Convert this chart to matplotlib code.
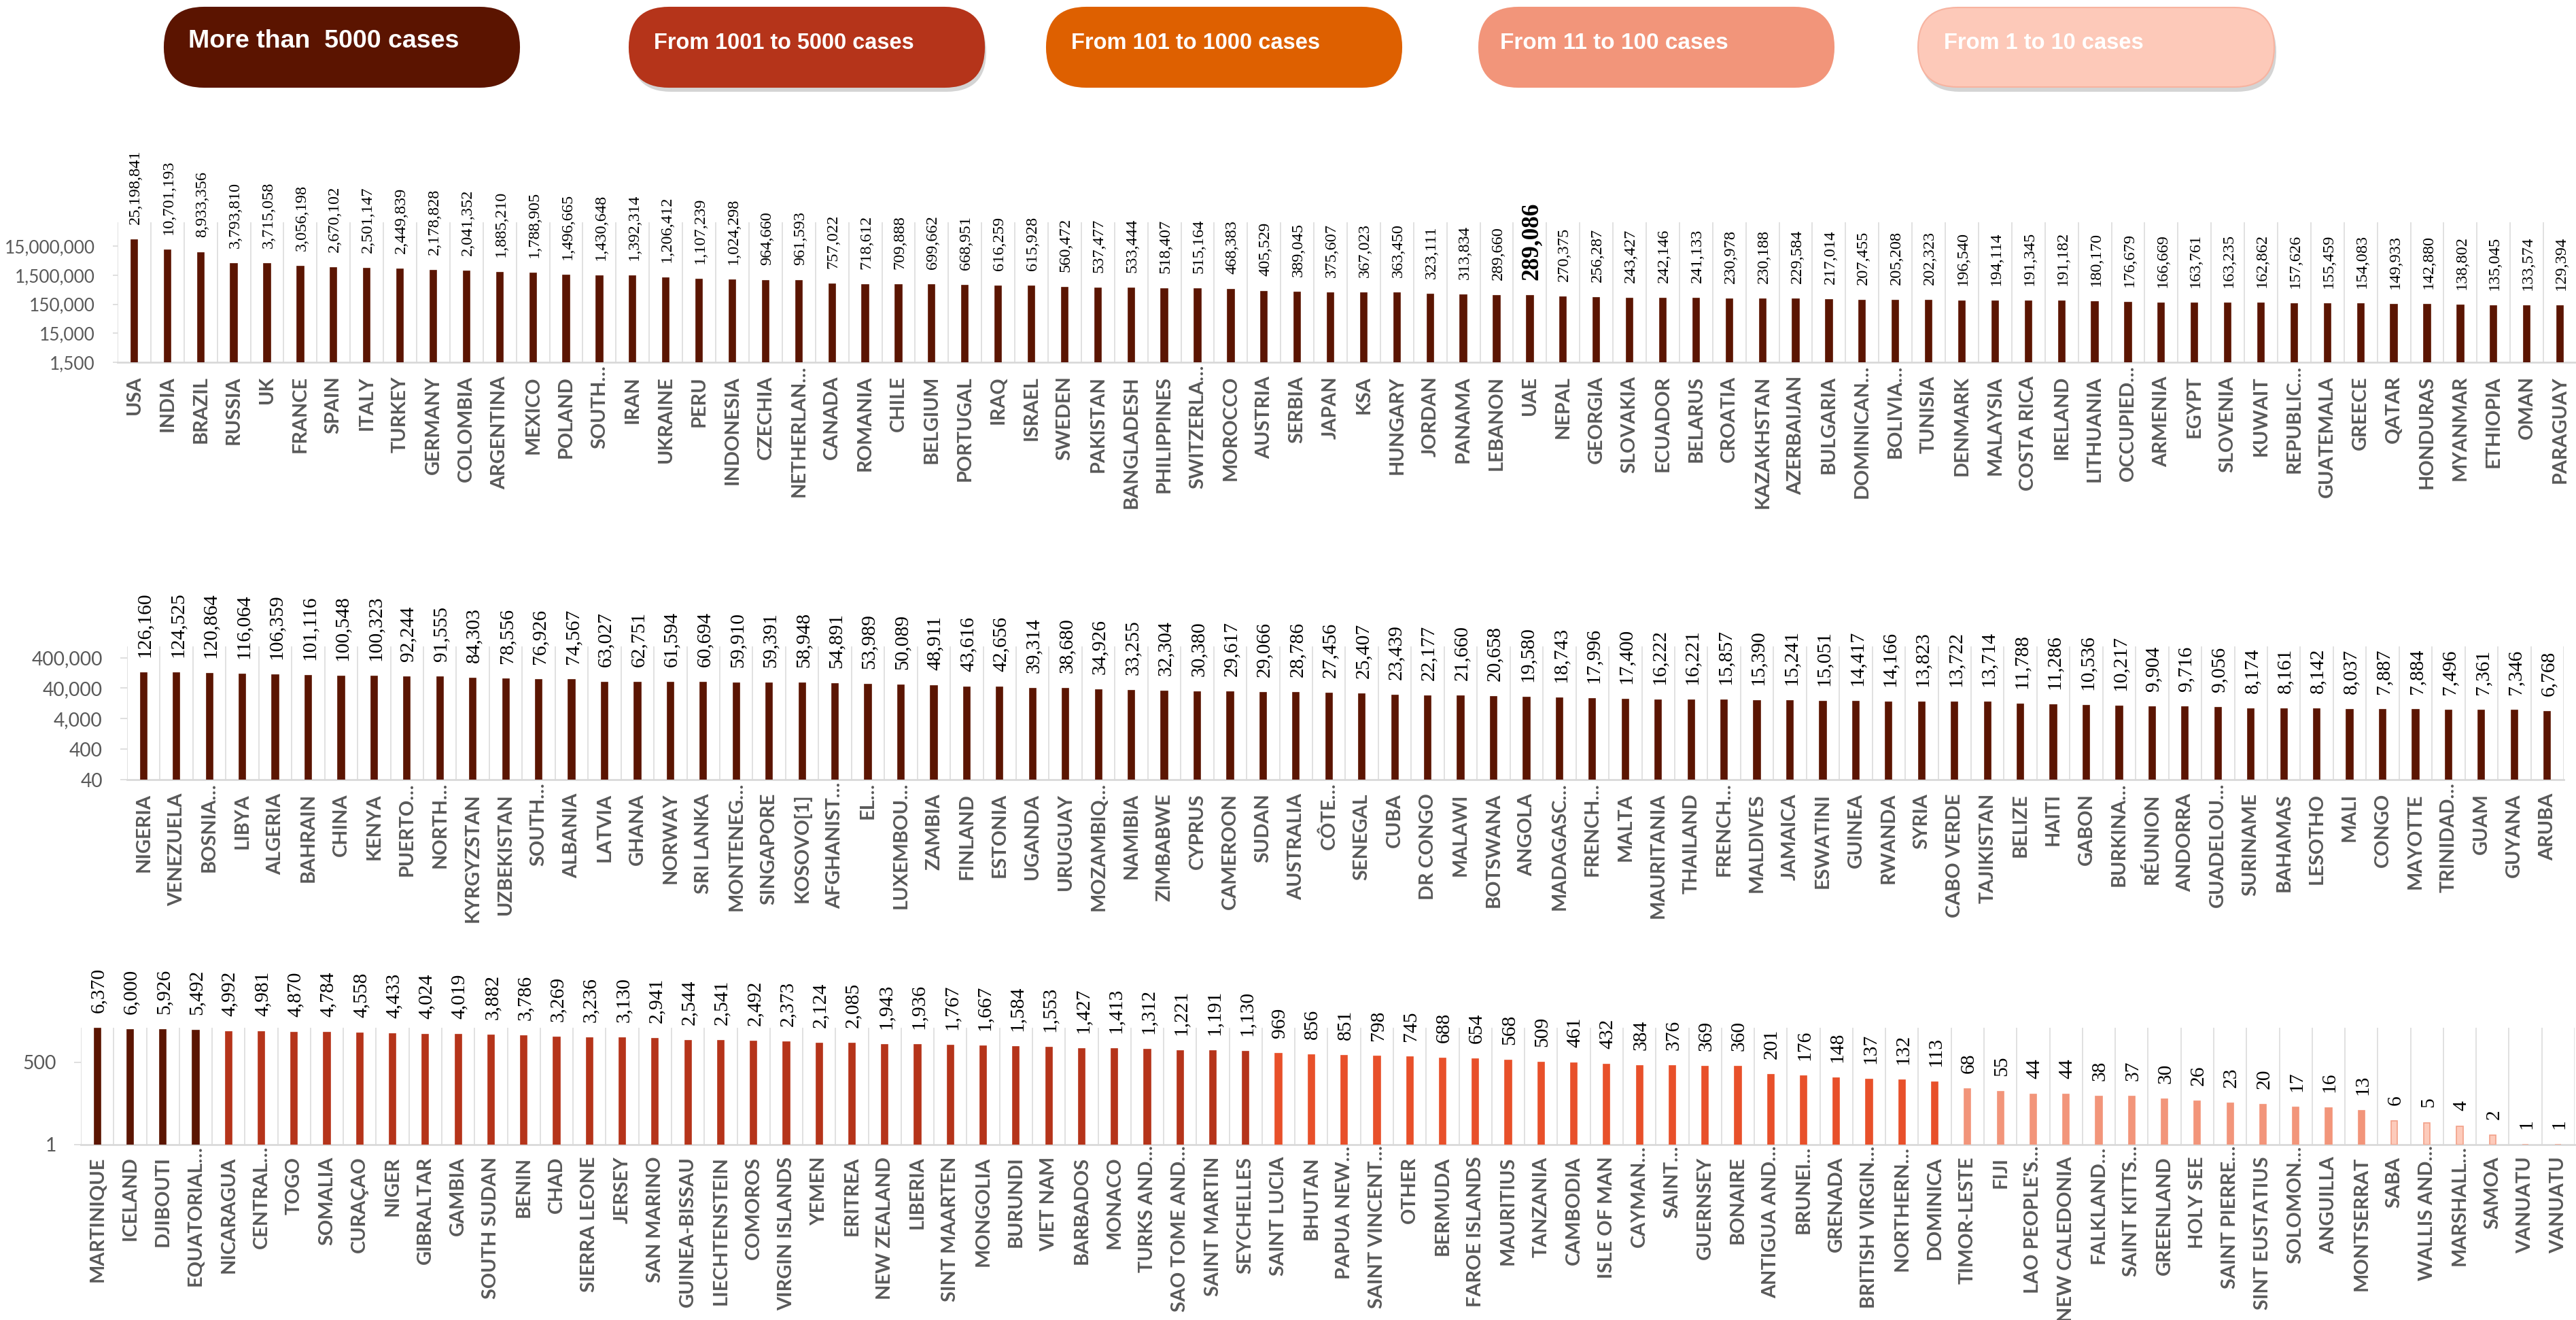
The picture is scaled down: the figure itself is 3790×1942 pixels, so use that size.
import numpy as np
import matplotlib
matplotlib.use("Agg")
import matplotlib.pyplot as plt
from matplotlib.patches import FancyBboxPatch
from matplotlib.textpath import TextPath
from matplotlib.font_manager import FontProperties
from matplotlib.ticker import FixedLocator, FuncFormatter, NullLocator

# ---------------- DATA ----------------
legend_labels = ["More than  5000 cases", "From 1001 to 5000 cases", "From 101 to 1000 cases",
                 "From 11 to 100 cases", "From 1 to 10 cases"]

top_countries = ["USA", "INDIA", "BRAZIL", "RUSSIA", "UK", "FRANCE", "SPAIN", "ITALY", "TURKEY", "GERMANY",
                 "COLOMBIA", "ARGENTINA", "MEXICO", "POLAND", "SOUTH…", "IRAN", "UKRAINE", "PERU", "INDONESIA",
                 "CZECHIA", "NETHERLAN…", "CANADA", "ROMANIA", "CHILE", "BELGIUM", "PORTUGAL", "IRAQ", "ISRAEL",
                 "SWEDEN", "PAKISTAN", "BANGLADESH", "PHILIPPINES", "SWITZERLA…", "MOROCCO", "AUSTRIA", "SERBIA",
                 "JAPAN", "KSA", "HUNGARY", "JORDAN", "PANAMA", "LEBANON", "UAE", "NEPAL", "GEORGIA", "SLOVAKIA",
                 "ECUADOR", "BELARUS", "CROATIA", "KAZAKHSTAN", "AZERBAIJAN", "BULGARIA", "DOMINICAN…",
                 "BOLIVIA…", "TUNISIA", "DENMARK", "MALAYSIA", "COSTA RICA", "IRELAND", "LITHUANIA",
                 "OCCUPIED…", "ARMENIA", "EGYPT", "SLOVENIA", "KUWAIT", "REPUBLIC…", "GUATEMALA", "GREECE",
                 "QATAR", "HONDURAS", "MYANMAR", "ETHIOPIA", "OMAN", "PARAGUAY"]
top_values = [25198841, 10701193, 8933356, 3793810, 3715058, 3056198, 2670102, 2501147, 2449839, 2178828,
              2041352, 1885210, 1788905, 1496665, 1430648, 1392314, 1206412, 1107239, 1024298, 964660,
              961593, 757022, 718612, 709888, 699662, 668951, 616259, 615928, 560472, 537477,
              533444, 518407, 515164, 468383, 405529, 389045, 375607, 367023, 363450, 323111,
              313834, 289660, 289086, 270375, 256287, 243427, 242146, 241133, 230978, 230188,
              229584, 217014, 207455, 205208, 202323, 196540, 194114, 191345, 191182, 180170,
              176679, 166669, 163761, 163235, 162862, 157626, 155459, 154083, 149933, 142880,
              138802, 135045, 133574, 129394]
top_highlight = "UAE"
top_ticks = [1500, 15000, 150000, 1500000, 15000000]

mid_countries = ["NIGERIA", "VENEZUELA", "BOSNIA…", "LIBYA", "ALGERIA", "BAHRAIN", "CHINA", "KENYA", "PUERTO…",
                 "NORTH…", "KYRGYZSTAN", "UZBEKISTAN", "SOUTH…", "ALBANIA", "LATVIA", "GHANA", "NORWAY",
                 "SRI LANKA", "MONTENEG…", "SINGAPORE", "KOSOVO[1]", "AFGHANIST…", "EL…", "LUXEMBOU…", "ZAMBIA",
                 "FINLAND", "ESTONIA", "UGANDA", "URUGUAY", "MOZAMBIQ…", "NAMIBIA", "ZIMBABWE", "CYPRUS",
                 "CAMEROON", "SUDAN", "AUSTRALIA", "CÔTE…", "SENEGAL", "CUBA", "DR CONGO", "MALAWI", "BOTSWANA",
                 "ANGOLA", "MADAGASC…", "FRENCH…", "MALTA", "MAURITANIA", "THAILAND", "FRENCH…", "MALDIVES",
                 "JAMAICA", "ESWATINI", "GUINEA", "RWANDA", "SYRIA", "CABO VERDE", "TAJIKISTAN", "BELIZE",
                 "HAITI", "GABON", "BURKINA…", "RÉUNION", "ANDORRA", "GUADELOU…", "SURINAME", "BAHAMAS",
                 "LESOTHO", "MALI", "CONGO", "MAYOTTE", "TRINIDAD…", "GUAM", "GUYANA", "ARUBA"]
mid_values = [126160, 124525, 120864, 116064, 106359, 101116, 100548, 100323, 92244, 91555,
              84303, 78556, 76926, 74567, 63027, 62751, 61594, 60694, 59910, 59391,
              58948, 54891, 53989, 50089, 48911, 43616, 42656, 39314, 38680, 34926,
              33255, 32304, 30380, 29617, 29066, 28786, 27456, 25407, 23439, 22177,
              21660, 20658, 19580, 18743, 17996, 17400, 16222, 16221, 15857, 15390,
              15241, 15051, 14417, 14166, 13823, 13722, 13714, 11788, 11286, 10536,
              10217, 9904, 9716, 9056, 8174, 8161, 8142, 8037, 7887, 7884,
              7496, 7361, 7346, 6768]
mid_ticks = [40, 400, 4000, 40000, 400000]

bot_countries = ["MARTINIQUE", "ICELAND", "DJIBOUTI", "EQUATORIAL…", "NICARAGUA", "CENTRAL…", "TOGO", "SOMALIA",
                 "CURAÇAO", "NIGER", "GIBRALTAR", "GAMBIA", "SOUTH SUDAN", "BENIN", "CHAD", "SIERRA LEONE",
                 "JERSEY", "SAN MARINO", "GUINEA-BISSAU", "LIECHTENSTEIN", "COMOROS", "VIRGIN ISLANDS", "YEMEN",
                 "ERITREA", "NEW ZEALAND", "LIBERIA", "SINT MAARTEN", "MONGOLIA", "BURUNDI", "VIET NAM",
                 "BARBADOS", "MONACO", "TURKS AND…", "SAO TOME AND…", "SAINT MARTIN", "SEYCHELLES",
                 "SAINT LUCIA", "BHUTAN", "PAPUA NEW…", "SAINT VINCENT…", "OTHER", "BERMUDA", "FAROE ISLANDS",
                 "MAURITIUS", "TANZANIA", "CAMBODIA", "ISLE OF MAN", "CAYMAN…", "SAINT…", "GUERNSEY",
                 "BONAIRE", "ANTIGUA AND…", "BRUNEI…", "GRENADA", "BRITISH VIRGIN…", "NORTHERN…", "DOMINICA",
                 "TIMOR-LESTE", "FIJI", "LAO PEOPLE'S…", "NEW CALEDONIA", "FALKLAND…", "SAINT KITTS…",
                 "GREENLAND", "HOLY SEE", "SAINT PIERRE…", "SINT EUSTATIUS", "SOLOMON…", "ANGUILLA",
                 "MONTSERRAT", "SABA", "WALLIS AND…", "MARSHALL…", "SAMOA", "VANUATU", "VANUATU"]
bot_values = [6370, 6000, 5926, 5492, 4992, 4981, 4870, 4784, 4558, 4433,
              4024, 4019, 3882, 3786, 3269, 3236, 3130, 2941, 2544, 2541,
              2492, 2373, 2124, 2085, 1943, 1936, 1767, 1667, 1584, 1553,
              1427, 1413, 1312, 1221, 1191, 1130, 969, 856, 851, 798,
              745, 688, 654, 568, 509, 461, 432, 384, 376, 369,
              360, 201, 176, 148, 137, 132, 113, 68, 55, 44,
              44, 38, 37, 30, 26, 23, 20, 17, 16, 13,
              6, 5, 4, 2, 1, 1]
bot_ticks = [1, 500]

# ---------------- STYLE ----------------
W, H = 3791, 1942
DPI = 100
C_DARK, C_RED, C_ORANGE, C_SALMON, C_PINK = "#5B1502", "#B5341A", "#E8502A", "#F2957A", "#FDCBBB"
LEGEND_COLORS = ["#5B1400", "#B5341A", "#DE6000", "#F2957A", "#FDC9B9"]
GRID = "#D9D9D9"
GREY_TXT = "#595959"


def bar_style(v):
    if v > 5000:
        return C_DARK, C_DARK
    if v > 1000:
        return C_RED, C_RED
    if v > 100:
        return C_ORANGE, C_ORANGE
    if v > 10:
        return C_SALMON, C_SALMON
    return C_PINK, "#F2A088"


def fit_size(text, family, weight, target_px):
    fp = FontProperties(family=family, weight=weight, size=100)
    ext = TextPath((0, 0), text, prop=fp).get_extents()
    return target_px * 72.0 / ext.width


LABEL_FONT = "Lato"
TICK_FONT = "Lato"
VALUE_FONT = "Liberation Serif"
LEG_FONT = "Liberation Sans"

cat_size = fit_size("MARTINIQUE", LABEL_FONT, "bold", 181)
ell_px = cat_size * DPI / 72 * 0.55

fig = plt.figure(figsize=(W / DPI, H / DPI), dpi=DPI)
fig.patch.set_facecolor("white")


def rect(left, right, top, bottom):
    return [left / W, 1 - bottom / H, (right - left) / W, (bottom - top) / H]


def panel(box, countries, values, ylim, ticks, tick_target, val_size, tick_len, highlight=None, lab_gap=20):
    ax = fig.add_axes(rect(*box))
    n = len(values)
    x = np.arange(n)
    ax.set_yscale("log")
    base = ylim[0]
    cols = [bar_style(v) for v in values]
    ax.bar(x, np.array(values, dtype=float) - base, bottom=base, width=0.19,
           color=[c[0] for c in cols], edgecolor=[c[1] for c in cols], linewidth=1.2, zorder=3)
    ax.set_xlim(-0.5, n - 0.5)
    ax.set_ylim(*ylim)
    ax.vlines(np.arange(n + 1) - 0.5, 0, 1, transform=ax.get_xaxis_transform(),
              colors=GRID, linewidth=1.1, zorder=1)
    for s in ("top", "right", "left"):
        ax.spines[s].set_visible(False)
    ax.spines["bottom"].set_color(GRID)
    ax.spines["bottom"].set_linewidth(2.0)
    ax.set_xticks([])
    ax.yaxis.set_major_locator(FixedLocator(ticks))
    ax.yaxis.set_minor_locator(NullLocator())
    ax.yaxis.set_major_formatter(FuncFormatter(lambda v, p: f"{v:,.0f}"))
    tsize = fit_size(f"{ticks[-1]:,}", TICK_FONT, "normal", tick_target)
    ax.tick_params(axis="y", length=tick_len, width=1.2, color=GRID, pad=19,
                   labelsize=tsize, labelcolor=GREY_TXT)
    for lab in ax.get_yticklabels():
        lab.set_fontfamily(TICK_FONT)
    for i, v in enumerate(values):
        bold = highlight is not None and countries[i] == highlight
        ax.annotate(f"{v:,}", xy=(i, max(v, base)), xytext=(2, 23), textcoords="offset pixels",
                    rotation=90, ha="center", va="bottom", fontfamily=VALUE_FONT,
                    fontsize=val_size * (1.45 if bold else 1.0),
                    fontweight="bold" if bold else "normal", color="black", annotation_clip=False)
    for i, lab in enumerate(countries):
        off = -lab_gap + (ell_px if lab.endswith("…") else 0)
        ax.annotate(lab, xy=(i, 0), xycoords=ax.get_xaxis_transform(), xytext=(0, off),
                    textcoords="offset pixels", rotation=90, ha="center", va="top",
                    fontfamily=LABEL_FONT, fontweight="bold", fontsize=cat_size, color=GREY_TXT,
                    annotation_clip=False)
    return ax


top_val_size = fit_size("25,198,841", VALUE_FONT, "normal", 107)
mid_val_size = fit_size("126,160", VALUE_FONT, "normal", 92)

panel((173, 3791, 327, 533), top_countries, top_values, (1500, 1.0e8), top_ticks, 131,
      top_val_size, 5, highlight=top_highlight)
panel((187, 3772, 951, 1147), mid_countries, mid_values, (40, 9.4e5), mid_ticks, 103,
      mid_val_size, 7)
panel((119, 3788, 1512, 1683.5), bot_countries, bot_values, (1, 6870), bot_ticks, 47,
      mid_val_size, 7, lab_gap=18)

# ---------------- LEGEND (pill boxes) ----------------
ov = fig.add_axes([0, 0, 1, 1], zorder=-1)
ov.set_xlim(0, W)
ov.set_ylim(H, 0)
ov.axis("off")
boxes = [(242, 764), (926, 1448), (1540, 2062), (2176, 2698), (2822, 3346)]
text_x = [277, 962, 1576, 2207, 2860]
text_w = [394, 380, 363, 332, 290]
shadow = [False, True, False, False, True]
y0, y1 = 11, 128
for k, ((xa, xb), lab) in enumerate(zip(boxes, legend_labels)):
    r = (y1 - y0) / 2
    if shadow[k]:
        sh = FancyBboxPatch((xa + 3, y0 + 7), xb - xa, y1 - y0,
                            boxstyle=f"round,pad=0,rounding_size={r}", facecolor="#D4D4D4",
                            edgecolor="none", zorder=1)
        ov.add_patch(sh)
    ec = "#F7B3A0" if k == 4 else LEGEND_COLORS[k]
    p = FancyBboxPatch((xa, y0), xb - xa, y1 - y0,
                       boxstyle=f"round,pad=0,rounding_size={r}", facecolor=LEGEND_COLORS[k],
                       edgecolor=ec, linewidth=1.5, zorder=2)
    ov.add_patch(p)
    fs = fit_size(lab, LEG_FONT, "bold", text_w[k])
    ov.text(text_x[k], 61 if k == 0 else 64, lab, ha="left", va="center", fontfamily=LEG_FONT,
            fontweight="bold", fontsize=fs, color="white", zorder=3)

fig.savefig("out.png", dpi=DPI, facecolor="white")
